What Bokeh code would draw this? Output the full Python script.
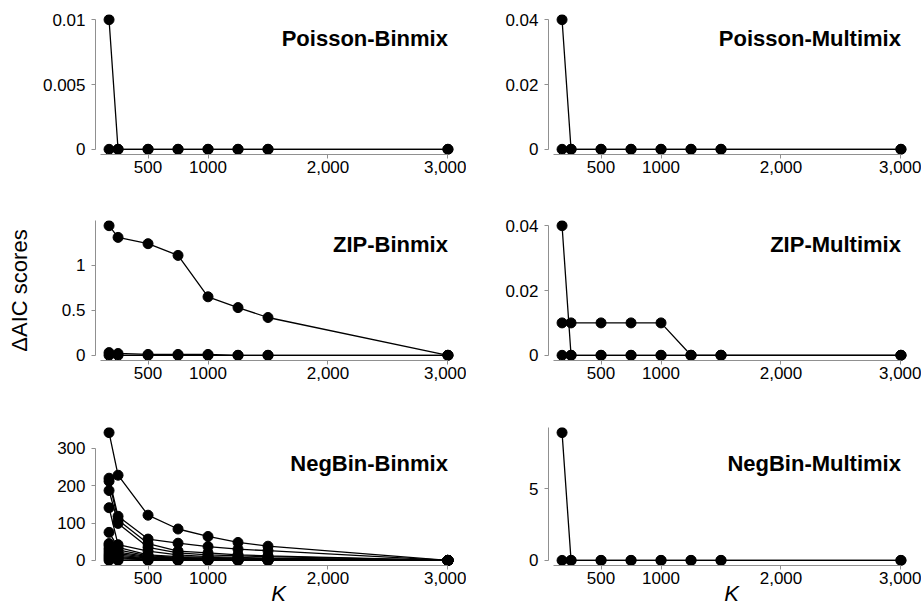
import math
from bokeh.plotting import figure
from bokeh.models import Range1d, FixedTicker, Label
from bokeh.layouts import column, row
from bokeh.embed import file_html
from bokeh.resources import INLINE

# ---------------- data ----------------
K = [175, 250, 500, 750, 1000, 1250, 1500, 3000]
x_ticks = [500, 1000, 2000, 3000]
x_tick_labels = ["500", "1000", "2,000", "3,000"]

poisson_binmix = [
    [0.01, 0, 0, 0, 0, 0, 0, 0],
    [0, 0, 0, 0, 0, 0, 0, 0],
]
poisson_multimix = [
    [0.04, 0, 0, 0, 0, 0, 0, 0],
    [0, 0, 0, 0, 0, 0, 0, 0],
]
zip_binmix = [
    [1.44, 1.31, 1.24, 1.11, 0.65, 0.53, 0.42, 0],
    [0.03, 0.02, 0.01, 0.01, 0.01, 0, 0, 0],
    [0, 0, 0, 0, 0, 0, 0, 0],
]
zip_multimix = [
    [0.04, 0, 0, 0, 0, 0, 0, 0],
    [0.01, 0.01, 0.01, 0.01, 0.01, 0, 0, 0],
    [0, 0, 0, 0, 0, 0, 0, 0],
]
negbin_binmix = [
    [342, 228, 121, 84, 64, 48, 38, 0],
    [220, 118, 57, 46, 37, 30, 26, 0],
    [212, 108, 45, 25, 20, 15, 12, 0],
    [187, 99, 35, 20, 15, 12, 10, 0],
    [141, 42, 25, 15, 10, 8, 6, 0],
    [75, 35, 15, 10, 8, 6, 5, 0],
    [45, 28, 12, 8, 6, 4, 3, 0],
    [40, 22, 10, 6, 4, 3, 2, 0],
    [32, 18, 8, 5, 3, 2, 2, 0],
    [25, 14, 6, 4, 3, 2, 1, 0],
    [18, 10, 5, 3, 2, 1, 1, 0],
    [12, 7, 3, 2, 1, 1, 0, 0],
    [6, 4, 2, 1, 1, 0, 0, 0],
    [0, 0, 0, 0, 0, 0, 0, 0],
]
negbin_multimix = [
    [8.9, 0, 0, 0, 0, 0, 0, 0],
    [0, 0, 0, 0, 0, 0, 0, 0],
]

titles = ["Poisson-Binmix", "Poisson-Multimix", "ZIP-Binmix",
          "ZIP-Multimix", "NegBin-Binmix", "NegBin-Multimix"]
y_ticks = [
    [0, 0.005, 0.01],
    [0, 0.02, 0.04],
    [0, 0.5, 1],
    [0, 0.02, 0.04],
    [0, 100, 200, 300],
    [0, 5],
]
y_tick_labels = [
    ["0", "0.005", "0.01"],
    ["0", "0.02", "0.04"],
    ["0", "0.5", "1"],
    ["0", "0.02", "0.04"],
    ["0", "100", "200", "300"],
    ["0", "5"],
]
y_label = "\u0394AIC scores"
x_label = "K"

# ---------------- styling ----------------
FONT = "Liberation Sans"
AXIS_GREY = "#909090"
TOP = 14


def make_panel(series, title, yt, ytl, ybound_mode, title_offset,
               width, height, frame_h, border_left, border_right,
               show_xlabel=False, show_ylabel=False):
    xmin, xmax = min(K), max(K)
    xpad = 0.04 * (xmax - xmin)
    ymax = max(max(s) for s in series)
    ymin = 0
    ypad = 0.04 * (ymax - ymin)
    y_end = ymax + ypad

    p = figure(output_backend="svg", toolbar_location=None,
               width=width, height=height,
               min_border_left=border_left, min_border_right=border_right,
               min_border_top=TOP, min_border_bottom=height - TOP - frame_h,
               x_range=Range1d(xmin - xpad, xmax + xpad),
               y_range=Range1d(ymin - ypad, y_end))
    p.outline_line_color = None
    p.xgrid.visible = False
    p.ygrid.visible = False
    p.background_fill_color = "white"
    p.border_fill_color = "white"

    for s in series:
        p.line(K, s, line_color="black", line_width=1.3)
        p.scatter(K, s, size=10, fill_color="black", line_color="black")

    # x axis
    xa = p.xaxis[0]
    xa.ticker = FixedTicker(ticks=x_ticks)
    xa.major_label_overrides = {t: l for t, l in zip(x_ticks, x_tick_labels)}
    xa.bounds = (100, xmax)
    xa.minor_tick_line_color = None
    xa.axis_line_color = AXIS_GREY
    xa.major_tick_line_color = AXIS_GREY
    xa.major_tick_in = 0
    xa.major_tick_out = 4
    xa.major_label_standoff = 2
    xa.major_label_text_font = FONT
    xa.major_label_text_font_size = "17px"
    xa.major_label_text_color = "black"
    if show_xlabel:
        xa.axis_label = x_label
        xa.axis_label_standoff = -6
        xa.axis_label_text_font = FONT
        xa.axis_label_text_font_size = "22px"
        xa.axis_label_text_font_style = "italic"
        xa.axis_label_text_color = "black"

    # y axis
    ya = p.yaxis[0]
    ya.ticker = FixedTicker(ticks=yt)
    ya.major_label_overrides = {t: l for t, l in zip(yt, ytl)}
    top = max(yt) if ybound_mode == "tick" else y_end
    ya.bounds = (0, top)
    ya.minor_tick_line_color = None
    ya.axis_line_color = AXIS_GREY
    ya.major_tick_line_color = AXIS_GREY
    ya.major_tick_in = 0
    ya.major_tick_out = 4
    ya.major_label_standoff = 6
    ya.major_label_text_font = FONT
    ya.major_label_text_font_size = "17px"
    ya.major_label_text_color = "black"
    if show_ylabel:
        ya.axis_label = y_label
        ya.axis_label_standoff = 27
        ya.axis_label_text_font = FONT
        ya.axis_label_text_font_size = "22px"
        ya.axis_label_text_font_style = "normal"
        ya.axis_label_text_color = "black"

    p.add_layout(Label(x=xmax, y=frame_h - title_offset, x_units="data",
                       y_units="screen", text=title, text_align="right",
                       text_baseline="alphabetic", text_font=FONT,
                       text_font_size="22px", text_font_style="bold",
                       text_color="black"))
    return p


LW, RW = 466, 455
p1 = make_panel(poisson_binmix, titles[0], y_ticks[0], y_tick_labels[0], "tick", 24,
                LW, 206, 140, 95, 5)
p2 = make_panel(poisson_multimix, titles[1], y_ticks[1], y_tick_labels[1], "tick", 24,
                RW, 206, 140, 82, 7)
p3 = make_panel(zip_binmix, titles[2], y_ticks[2], y_tick_labels[2], "range", 24,
                LW, 207, 140, 95, 5, show_ylabel=True)
p4 = make_panel(zip_multimix, titles[3], y_ticks[3], y_tick_labels[3], "tick", 24,
                RW, 207, 140, 82, 7)
p5 = make_panel(negbin_binmix, titles[4], y_ticks[4], y_tick_labels[4], "tick", 36,
                LW, 198, 138, 95, 5, show_xlabel=True)
p6 = make_panel(negbin_multimix, titles[5], y_ticks[5], y_tick_labels[5], "range", 36,
                RW, 198, 138, 82, 7, show_xlabel=True)

layout = column(row(p1, p2), row(p3, p4), row(p5, p6))

open("out.html", "w").write(file_html(layout, INLINE))
